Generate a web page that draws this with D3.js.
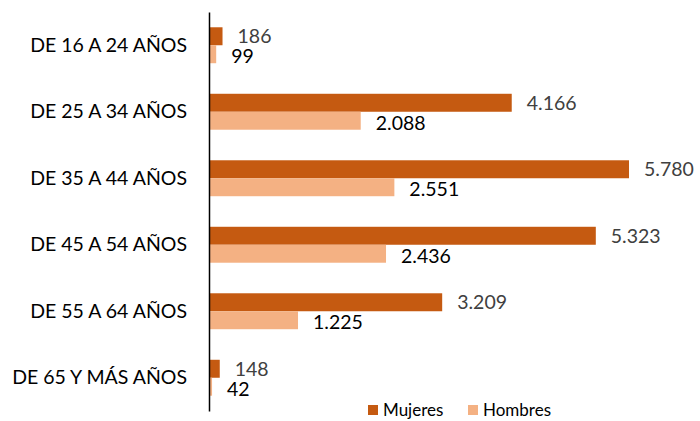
<!DOCTYPE html>
<html>
<head>
<meta charset="utf-8">
<script src="https://cdn.jsdelivr.net/npm/d3@7"></script>
<style>
  body { margin: 0; background: #fff; }
  svg { font-family: Lato, "Open Sans", sans-serif; }
</style>
</head>
<body>
<svg id="chart" width="700" height="421"></svg>
<script>
const categories = ["DE 16 A 24 AÑOS", "DE 25 A 34 AÑOS", "DE 35 A 44 AÑOS", "DE 45 A 54 AÑOS", "DE 55 A 64 AÑOS", "DE 65 Y MÁS AÑOS"];
const series = ["Mujeres", "Hombres"];
const mujeres = [186, 4166, 5780, 5323, 3209, 148];
const hombres = [99, 2088, 2551, 2436, 1225, 42];

const svg = d3.select("#chart");
const colors = { Mujeres: "#C55A11", Hombres: "#F4B183" };
const labelColors = { Mujeres: "#404040", Hombres: "#000000" };

const esLocale = d3.formatLocale({ decimal: ",", thousands: ".", grouping: [3], currency: ["", "€"] });
const fmt = esLocale.format(",d");

const chartData = categories.map((c, i) => ({ category: c, Mujeres: mujeres[i], Hombres: hombres[i] }));

// Scales
const x = d3.scaleLinear()
    .domain([0, 6000])
    .range([209, 645]);

const y = d3.scaleBand()
    .domain(categories)
    .range([12, 411])
    .padding(0);

const ySub = d3.scaleBand()
    .domain(series)
    .range([0, y.bandwidth()])
    .paddingInner(0)
    .paddingOuter(0.85);

const groups = svg.append("g")
    .selectAll("g")
    .data(chartData)
    .join("g")
    .attr("transform", d => `translate(0, ${y(d.category)})`);

groups.selectAll("rect")
    .data(d => series.map(s => ({ key: s, value: d[s] })))
    .join("rect")
    .attr("x", x(0))
    .attr("y", d => ySub(d.key))
    .attr("width", d => x(d.value) - x(0))
    .attr("height", ySub.bandwidth())
    .attr("fill", d => colors[d.key]);

groups.selectAll("text")
    .data(d => series.map(s => ({ key: s, value: d[s] })))
    .join("text")
    .attr("x", d => x(d.value) + 15)
    .attr("y", d => ySub(d.key) + ySub.bandwidth() / 2 + (d.key === "Hombres" ? 2 : 0))
    .attr("dy", "0.35em")
    .attr("fill", d => labelColors[d.key])
    .attr("font-size", "19.5px")
    .text(d => fmt(d.value));

// Category axis
svg.append("g")
    .attr("transform", `translate(${x(0)}, 0)`)
    .call(d3.axisLeft(y).tickSize(0).tickSizeOuter(0).tickPadding(22))
    .call(g => g.select(".domain").attr("stroke", "#000").attr("stroke-width", 1.5))
    .call(g => g.selectAll(".tick text")
        .attr("font-family", "Lato, 'Open Sans', sans-serif")
        .attr("font-size", "19.5px")
        .attr("fill", "#000"));

// Legend
const legend = svg.append("g")
    .attr("transform", "translate(368, 405)");

const legendItems = legend.selectAll("g")
    .data(series)
    .join("g")
    .attr("transform", (d, i) => `translate(${i * 100}, 0)`);

legendItems.append("rect")
    .attr("width", 10)
    .attr("height", 10)
    .attr("fill", d => colors[d]);

legendItems.append("text")
    .attr("x", 15)
    .attr("y", 5)
    .attr("dy", "0.35em")
    .attr("font-size", "17px")
    .attr("fill", "#000")
    .text(d => d);
</script>
</body>
</html>
